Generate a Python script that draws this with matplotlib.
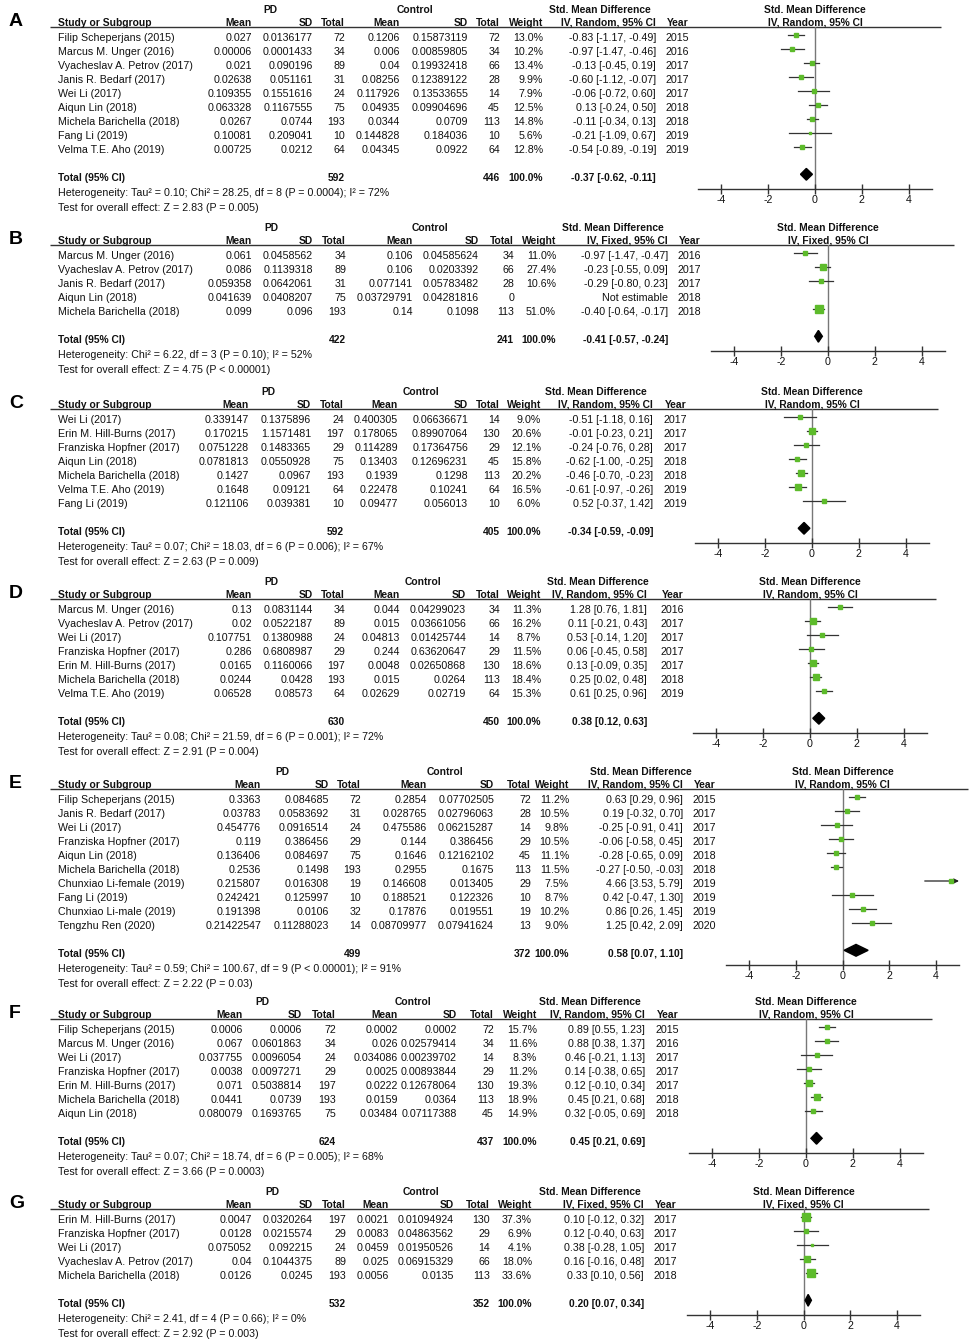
import numpy as np
import matplotlib
matplotlib.use("Agg")
import matplotlib.pyplot as plt

plt.rcParams["font.family"] = ["Liberation Sans", "DejaVu Sans"]
plt.rcParams["axes.unicode_minus"] = False

nan = np.nan

# ---------------- panel A ----------------
a_study = ["Filip Scheperjans (2015)", "Marcus M. Unger (2016)", "Vyacheslav A. Petrov (2017)",
           "Janis R. Bedarf (2017)", "Wei Li (2017)", "Aiqun Lin (2018)",
           "Michela Barichella (2018)", "Fang Li (2019)", "Velma T.E. Aho (2019)"]
a_pd_mean = ["0.027", "0.00006", "0.021", "0.02638", "0.109355", "0.063328", "0.0267", "0.10081", "0.00725"]
a_pd_sd = ["0.0136177", "0.0001433", "0.090196", "0.051161", "0.1551616", "0.1167555", "0.0744", "0.209041", "0.0212"]
a_pd_n = [72, 34, 89, 31, 24, 75, 193, 10, 64]
a_c_mean = ["0.1206", "0.006", "0.04", "0.08256", "0.117926", "0.04935", "0.0344", "0.144828", "0.04345"]
a_c_sd = ["0.15873119", "0.00859805", "0.19932418", "0.12389122", "0.13533655", "0.09904696", "0.0709", "0.184036", "0.0922"]
a_c_n = [72, 34, 66, 28, 14, 45, 113, 10, 64]
a_weight = [13.0, 10.2, 13.4, 9.9, 7.9, 12.5, 14.8, 5.6, 12.8]
a_smd = [-0.83, -0.97, -0.13, -0.60, -0.06, 0.13, -0.11, -0.21, -0.54]
a_lo = [-1.17, -1.47, -0.45, -1.12, -0.72, -0.24, -0.34, -1.09, -0.89]
a_hi = [-0.49, -0.46, 0.19, -0.07, 0.60, 0.50, 0.13, 0.67, -0.19]
a_year = [2015, 2016, 2017, 2017, 2017, 2018, 2018, 2019, 2019]
a_total = (592, 446, -0.37, -0.62, -0.11)
a_het = "Heterogeneity: Tau\u00b2 = 0.10; Chi\u00b2 = 28.25, df = 8 (P = 0.0004); I\u00b2 = 72%"
a_test = "Test for overall effect: Z = 2.83 (P = 0.005)"

# ---------------- panel B ----------------
b_study = ["Marcus M. Unger (2016)", "Vyacheslav A. Petrov (2017)", "Janis R. Bedarf (2017)",
           "Aiqun Lin (2018)", "Michela Barichella (2018)"]
b_pd_mean = ["0.061", "0.086", "0.059358", "0.041639", "0.099"]
b_pd_sd = ["0.0458562", "0.1139318", "0.0642061", "0.0408207", "0.096"]
b_pd_n = [34, 89, 31, 75, 193]
b_c_mean = ["0.106", "0.106", "0.077141", "0.03729791", "0.14"]
b_c_sd = ["0.04585624", "0.0203392", "0.05783482", "0.04281816", "0.1098"]
b_c_n = [34, 66, 28, 0, 113]
b_weight = [11.0, 27.4, 10.6, nan, 51.0]
b_smd = [-0.97, -0.23, -0.29, nan, -0.40]
b_lo = [-1.47, -0.55, -0.80, nan, -0.64]
b_hi = [-0.47, 0.09, 0.23, nan, -0.17]
b_year = [2016, 2017, 2017, 2018, 2018]
b_total = (422, 241, -0.41, -0.57, -0.24)
b_het = "Heterogeneity: Chi\u00b2 = 6.22, df = 3 (P = 0.10); I\u00b2 = 52%"
b_test = "Test for overall effect: Z = 4.75 (P < 0.00001)"

# ---------------- panel C ----------------
c_study = ["Wei Li (2017)", "Erin M. Hill-Burns (2017)", "Franziska Hopfner (2017)", "Aiqun Lin (2018)",
           "Michela Barichella (2018)", "Velma T.E. Aho (2019)", "Fang Li (2019)"]
c_pd_mean = ["0.339147", "0.170215", "0.0751228", "0.0781813", "0.1427", "0.1648", "0.121106"]
c_pd_sd = ["0.1375896", "1.1571481", "0.1483365", "0.0550928", "0.0967", "0.09121", "0.039381"]
c_pd_n = [24, 197, 29, 75, 193, 64, 10]
c_c_mean = ["0.400305", "0.178065", "0.114289", "0.13403", "0.1939", "0.22478", "0.09477"]
c_c_sd = ["0.06636671", "0.89907064", "0.17364756", "0.12696231", "0.1298", "0.10241", "0.056013"]
c_c_n = [14, 130, 29, 45, 113, 64, 10]
c_weight = [9.0, 20.6, 12.1, 15.8, 20.2, 16.5, 6.0]
c_smd = [-0.51, -0.01, -0.24, -0.62, -0.46, -0.61, 0.52]
c_lo = [-1.18, -0.23, -0.76, -1.00, -0.70, -0.97, -0.37]
c_hi = [0.16, 0.21, 0.28, -0.25, -0.23, -0.26, 1.42]
c_year = [2017, 2017, 2017, 2018, 2018, 2019, 2019]
c_total = (592, 405, -0.34, -0.59, -0.09)
c_het = "Heterogeneity: Tau\u00b2 = 0.07; Chi\u00b2 = 18.03, df = 6 (P = 0.006); I\u00b2 = 67%"
c_test = "Test for overall effect: Z = 2.63 (P = 0.009)"

# ---------------- panel D ----------------
d_study = ["Marcus M. Unger (2016)", "Vyacheslav A. Petrov (2017)", "Wei Li (2017)", "Franziska Hopfner (2017)",
           "Erin M. Hill-Burns (2017)", "Michela Barichella (2018)", "Velma T.E. Aho (2019)"]
d_pd_mean = ["0.13", "0.02", "0.107751", "0.286", "0.0165", "0.0244", "0.06528"]
d_pd_sd = ["0.0831144", "0.0522187", "0.1380988", "0.6808987", "0.1160066", "0.0428", "0.08573"]
d_pd_n = [34, 89, 24, 29, 197, 193, 64]
d_c_mean = ["0.044", "0.015", "0.04813", "0.244", "0.0048", "0.015", "0.02629"]
d_c_sd = ["0.04299023", "0.03661056", "0.01425744", "0.63620647", "0.02650868", "0.0264", "0.02719"]
d_c_n = [34, 66, 14, 29, 130, 113, 64]
d_weight = [11.3, 16.2, 8.7, 11.5, 18.6, 18.4, 15.3]
d_smd = [1.28, 0.11, 0.53, 0.06, 0.13, 0.25, 0.61]
d_lo = [0.76, -0.21, -0.14, -0.45, -0.09, 0.02, 0.25]
d_hi = [1.81, 0.43, 1.20, 0.58, 0.35, 0.48, 0.96]
d_year = [2016, 2017, 2017, 2017, 2017, 2018, 2019]
d_total = (630, 450, 0.38, 0.12, 0.63)
d_het = "Heterogeneity: Tau\u00b2 = 0.08; Chi\u00b2 = 21.59, df = 6 (P = 0.001); I\u00b2 = 72%"
d_test = "Test for overall effect: Z = 2.91 (P = 0.004)"

# ---------------- panel E ----------------
e_study = ["Filip Scheperjans (2015)", "Janis R. Bedarf (2017)", "Wei Li (2017)", "Franziska Hopfner (2017)",
           "Aiqun Lin (2018)", "Michela Barichella (2018)", "Chunxiao Li-female (2019)", "Fang Li (2019)",
           "Chunxiao Li-male (2019)", "Tengzhu Ren (2020)"]
e_pd_mean = ["0.3363", "0.03783", "0.454776", "0.119", "0.136406", "0.2536", "0.215807", "0.242421", "0.191398", "0.21422547"]
e_pd_sd = ["0.084685", "0.0583692", "0.0916514", "0.386456", "0.084697", "0.1498", "0.016308", "0.125997", "0.0106", "0.11288023"]
e_pd_n = [72, 31, 24, 29, 75, 193, 19, 10, 32, 14]
e_c_mean = ["0.2854", "0.028765", "0.475586", "0.144", "0.1646", "0.2955", "0.146608", "0.188521", "0.17876", "0.08709977"]
e_c_sd = ["0.07702505", "0.02796063", "0.06215287", "0.386456", "0.12162102", "0.1675", "0.013405", "0.122326", "0.019551", "0.07941624"]
e_c_n = [72, 28, 14, 29, 45, 113, 29, 10, 19, 13]
e_weight = [11.2, 10.5, 9.8, 10.5, 11.1, 11.5, 7.5, 8.7, 10.2, 9.0]
e_smd = [0.63, 0.19, -0.25, -0.06, -0.28, -0.27, 4.66, 0.42, 0.86, 1.25]
e_lo = [0.29, -0.32, -0.91, -0.58, -0.65, -0.50, 3.53, -0.47, 0.26, 0.42]
e_hi = [0.96, 0.70, 0.41, 0.45, 0.09, -0.03, 5.79, 1.30, 1.45, 2.09]
e_year = [2015, 2017, 2017, 2017, 2018, 2018, 2019, 2019, 2019, 2020]
e_total = (499, 372, 0.58, 0.07, 1.10)
e_het = "Heterogeneity: Tau\u00b2 = 0.59; Chi\u00b2 = 100.67, df = 9 (P < 0.00001); I\u00b2 = 91%"
e_test = "Test for overall effect: Z = 2.22 (P = 0.03)"

# ---------------- panel F ----------------
f_study = ["Filip Scheperjans (2015)", "Marcus M. Unger (2016)", "Wei Li (2017)", "Franziska Hopfner (2017)",
           "Erin M. Hill-Burns (2017)", "Michela Barichella (2018)", "Aiqun Lin (2018)"]
f_pd_mean = ["0.0006", "0.067", "0.037755", "0.0038", "0.071", "0.0441", "0.080079"]
f_pd_sd = ["0.0006", "0.0601863", "0.0096054", "0.0097271", "0.5038814", "0.0739", "0.1693765"]
f_pd_n = [72, 34, 24, 29, 197, 193, 75]
f_c_mean = ["0.0002", "0.026", "0.034086", "0.0025", "0.0222", "0.0159", "0.03484"]
f_c_sd = ["0.0002", "0.02579414", "0.00239702", "0.00893844", "0.12678064", "0.0364", "0.07117388"]
f_c_n = [72, 34, 14, 29, 130, 113, 45]
f_weight = [15.7, 11.6, 8.3, 11.2, 19.3, 18.9, 14.9]
f_smd = [0.89, 0.88, 0.46, 0.14, 0.12, 0.45, 0.32]
f_lo = [0.55, 0.38, -0.21, -0.38, -0.10, 0.21, -0.05]
f_hi = [1.23, 1.37, 1.13, 0.65, 0.34, 0.68, 0.69]
f_year = [2015, 2016, 2017, 2017, 2017, 2018, 2018]
f_total = (624, 437, 0.45, 0.21, 0.69)
f_het = "Heterogeneity: Tau\u00b2 = 0.07; Chi\u00b2 = 18.74, df = 6 (P = 0.005); I\u00b2 = 68%"
f_test = "Test for overall effect: Z = 3.66 (P = 0.0003)"

# ---------------- panel G ----------------
g_study = ["Erin M. Hill-Burns (2017)", "Franziska Hopfner (2017)", "Wei Li (2017)",
           "Vyacheslav A. Petrov (2017)", "Michela Barichella (2018)"]
g_pd_mean = ["0.0047", "0.0128", "0.075052", "0.04", "0.0126"]
g_pd_sd = ["0.0320264", "0.0215574", "0.092215", "0.1044375", "0.0245"]
g_pd_n = [197, 29, 24, 89, 193]
g_c_mean = ["0.0021", "0.0083", "0.0459", "0.025", "0.0056"]
g_c_sd = ["0.01094924", "0.04863562", "0.01950526", "0.06915329", "0.0135"]
g_c_n = [130, 29, 14, 66, 113]
g_weight = [37.3, 6.9, 4.1, 18.0, 33.6]
g_smd = [0.10, 0.12, 0.38, 0.16, 0.33]
g_lo = [-0.12, -0.40, -0.28, -0.16, 0.10]
g_hi = [0.32, 0.63, 1.05, 0.48, 0.56]
g_year = [2017, 2017, 2017, 2017, 2018]
g_total = (532, 352, 0.20, 0.07, 0.34)
g_het = "Heterogeneity: Chi\u00b2 = 2.41, df = 4 (P = 0.66); I\u00b2 = 0%"
g_test = "Test for overall effect: Z = 2.92 (P = 0.003)"

ticks = [-4, -2, 0, 2, 4]
RANDOM = "IV, Random, 95% CI"
FIXED = "IV, Fixed, 95% CI"


def panel(label, method, study, pm, psd, pn, cm, csd, cn, w, smd, lo, hi, year, total, het, test):
    return dict(label=label, method=method, study=study, pm=pm, psd=psd, pn=pn, cm=cm, csd=csd, cn=cn,
                w=w, smd=smd, lo=lo, hi=hi, year=year, total=total, het=het, test=test)


panels = [
    panel("A", RANDOM, a_study, a_pd_mean, a_pd_sd, a_pd_n, a_c_mean, a_c_sd, a_c_n, a_weight, a_smd, a_lo, a_hi, a_year, a_total, a_het, a_test),
    panel("B", FIXED, b_study, b_pd_mean, b_pd_sd, b_pd_n, b_c_mean, b_c_sd, b_c_n, b_weight, b_smd, b_lo, b_hi, b_year, b_total, b_het, b_test),
    panel("C", RANDOM, c_study, c_pd_mean, c_pd_sd, c_pd_n, c_c_mean, c_c_sd, c_c_n, c_weight, c_smd, c_lo, c_hi, c_year, c_total, c_het, c_test),
    panel("D", RANDOM, d_study, d_pd_mean, d_pd_sd, d_pd_n, d_c_mean, d_c_sd, d_c_n, d_weight, d_smd, d_lo, d_hi, d_year, d_total, d_het, d_test),
    panel("E", RANDOM, e_study, e_pd_mean, e_pd_sd, e_pd_n, e_c_mean, e_c_sd, e_c_n, e_weight, e_smd, e_lo, e_hi, e_year, e_total, e_het, e_test),
    panel("F", RANDOM, f_study, f_pd_mean, f_pd_sd, f_pd_n, f_c_mean, f_c_sd, f_c_n, f_weight, f_smd, f_lo, f_hi, f_year, f_total, f_het, f_test),
    panel("G", FIXED, g_study, g_pd_mean, g_pd_sd, g_pd_n, g_c_mean, g_c_sd, g_c_n, g_weight, g_smd, g_lo, g_hi, g_year, g_total, g_het, g_test),
]

# layout (pixels): first row y, forest axis x-range, column right edges, header centres
layouts = [
    dict(row0=35, axis=(698, 932), cols=(252, 313, 345, 400, 468, 500, 543, 656, 689), hdr=(270, 415, 600)),
    dict(row0=253, axis=(711, 945), cols=(252, 313, 346, 413, 479, 514, 556, 668, 701), hdr=(271, 430, 613)),
    dict(row0=417, axis=(695, 929), cols=(249, 311, 344, 398, 468, 500, 541, 653, 687), hdr=(268, 421, 596)),
    dict(row0=607, axis=(693, 927), cols=(252, 313, 345, 400, 466, 500, 541, 647, 684), hdr=(271, 423, 598)),
    dict(row0=797, axis=(726, 959), cols=(261, 329, 361, 427, 494, 531, 569, 683, 716), hdr=(282, 445, 641)),
    dict(row0=1027, axis=(689, 923), cols=(243, 302, 336, 398, 457, 494, 537, 645, 679), hdr=(262, 413, 590)),
    dict(row0=1217, axis=(687, 920), cols=(252, 313, 346, 389, 454, 490, 532, 644, 677), hdr=(272, 421, 590)),
]

W, H = 972, 1339
RS = 14
FS = 7.7
FB = 7.4
GREEN = "#5dbb2b"
LINE = "#333333"

fig = plt.figure(figsize=(W / 100, H / 100), dpi=100)
bg = fig.add_axes([0, 0, 1, 1])
bg.set_xlim(0, W)
bg.set_ylim(H, 0)
bg.axis("off")


def txt(x, y, s, ha="right", bold=False, **kw):
    bg.text(x, y, s, ha=ha, va="baseline", fontsize=FB if bold else FS,
            fontweight="bold" if bold else "normal", color="#111111", **kw)


for p, lay in zip(panels, layouts):
    n = len(p["study"])
    r0 = lay["row0"]
    top = r0 - 8
    bot = r0 + RS * (n + 2)
    x0, x1 = lay["axis"]
    cpm, cpsd, cpn, ccm, ccsd, ccn, cw, ceff, cyr = lay["cols"]
    hpd, hc, hsmd = lay["hdr"]
    xmid = (x0 + x1) / 2

    # panel letter and headers
    bg.text(9, top - 1, p["label"], ha="left", va="baseline", fontsize=14, fontweight="bold")
    txt(hpd, top - 14, "PD", ha="center", bold=True)
    txt(hc, top - 14, "Control", ha="center", bold=True)
    txt(hsmd, top - 14, "Std. Mean Difference", ha="center", bold=True)
    txt(xmid, top - 14, "Std. Mean Difference", ha="center", bold=True)
    txt(58, top - 1.5, "Study or Subgroup", ha="left", bold=True)
    for x, s in [(cpm, "Mean"), (cpsd, "SD"), (cpn, "Total"), (ccm, "Mean"), (ccsd, "SD"),
                 (ccn, "Total"), (cw, "Weight"), (ceff, p["method"]), (cyr, "Year")]:
        txt(x, top - 1.5, s, bold=True)
    txt(xmid, top - 1.5, p["method"], ha="center", bold=True)
    bg.plot([50, x1 + 9], [top, top], color=LINE, lw=1.0, solid_capstyle="butt")

    # study rows
    for i in range(n):
        yb = r0 + RS * i + 6
        txt(58, yb, p["study"][i], ha="left")
        txt(cpm, yb, p["pm"][i])
        txt(cpsd, yb, p["psd"][i])
        txt(cpn, yb, str(p["pn"][i]))
        txt(ccm, yb, p["cm"][i])
        txt(ccsd, yb, p["csd"][i])
        txt(ccn, yb, str(p["cn"][i]))
        if not np.isnan(p["w"][i]):
            txt(cw, yb, f"{p['w'][i]:.1f}%")
            txt(ceff, yb, f"{p['smd'][i]:.2f} [{p['lo'][i]:.2f}, {p['hi'][i]:.2f}]")
        else:
            txt(ceff, yb, "Not estimable")
        txt(cyr, yb, str(p["year"][i]))

    # total rows
    tn_pd, tn_c, t_est, t_lo, t_hi = p["total"]
    yt = r0 + RS * (n + 0.95) + 7
    txt(58, yt, "Total (95% CI)", ha="left", bold=True)
    txt(cpn, yt, str(tn_pd), bold=True)
    txt(ccn, yt, str(tn_c), bold=True)
    txt(cw, yt, "100.0%", bold=True)
    txt(ceff, yt, f"{t_est:.2f} [{t_lo:.2f}, {t_hi:.2f}]", bold=True)
    txt(58, yt + 15, p["het"], ha="left")
    txt(58, yt + 29.5, p["test"], ha="left")

    # forest plot
    ax = fig.add_axes([x0 / W, 1 - bot / H, (x1 - x0) / W, (bot - top) / H])
    ax.patch.set_alpha(0)
    ax.set_xlim(-5, 5)
    ax.set_ylim(n + 2, -8 / RS)
    for s in ["top", "left", "right"]:
        ax.spines[s].set_visible(False)
    ax.spines["bottom"].set_color(LINE)
    ax.spines["bottom"].set_linewidth(1.0)
    ax.set_yticks([])
    ax.set_xticks(ticks)
    ax.set_xticklabels([str(t) for t in ticks], fontsize=FS, color="#111111")
    ax.tick_params(axis="x", direction="inout", length=7, width=1.0, color=LINE, pad=1)
    ax.axvline(0, color="#777777", lw=1.0, zorder=1)

    for i in range(n):
        if np.isnan(p["smd"][i]):
            continue
        lo_i, hi_i = p["lo"][i], p["hi"][i]
        if hi_i > 5:
            ax.annotate("", xy=(5, i), xytext=(lo_i, i),
                        arrowprops=dict(arrowstyle="-|>", color="#222222", lw=0.9,
                                        mutation_scale=7, shrinkA=0, shrinkB=0))
        else:
            ax.plot([lo_i, hi_i], [i, i], color="#333333", lw=0.9, zorder=2)
        ax.plot(p["smd"][i], i, marker="s", ms=0.9 * np.sqrt(p["w"][i]),
                color=GREEN, mec=GREEN, zorder=3)

    yd = n + 0.95
    hd = 0.42
    ax.fill([t_lo, t_est, t_hi, t_est], [yd, yd - hd, yd, yd + hd], color="black", zorder=3)

fig.savefig("out.png", dpi=100)
